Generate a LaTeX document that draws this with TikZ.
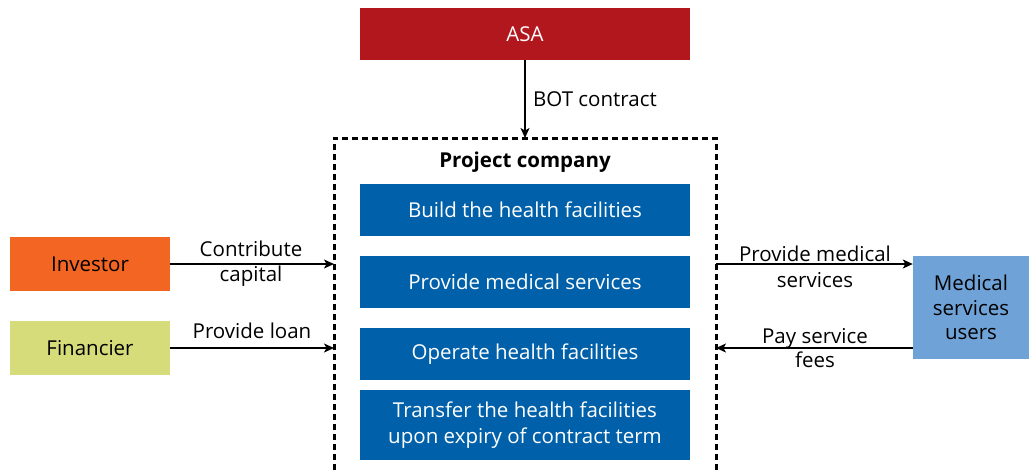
\documentclass[tikz,border=0pt]{standalone}
\usepackage{fontspec}
\setmainfont{Open Sans}
\usetikzlibrary{arrows.meta}
\definecolor{asared}{HTML}{B2171E}
\definecolor{boxblue}{HTML}{0060A9}
\definecolor{invorange}{HTML}{F26522}
\definecolor{finyellow}{HTML}{D6DC7A}
\definecolor{userblue}{HTML}{6FA3D8}
\begin{document}
\begin{tikzpicture}[x=1pt,y=-1pt,
  txt/.style={font=\fontsize{20.5}{24.5}\selectfont, align=center, inner sep=0pt},
  bluebox/.style={txt, fill=boxblue, text=white, minimum width=330pt, minimum height=52pt},
  sidebox/.style={txt, minimum width=160pt, minimum height=54pt},
  conn/.style={line width=1.2pt, -{Stealth[length=10pt,width=9pt,inset=2.5pt]}},
  frame/.style={line width=3pt, dash pattern=on 6pt off 4pt}]
\useasboundingbox (0,0) rectangle (1029,469);
\node[bluebox, fill=asared] (asa) at (525,34) {ASA};
\node[bluebox] (build) at (525,210) {Build the health facilities};
\node[bluebox] (serv) at (525,282) {Provide medical services};
\node[bluebox] (oper) at (525,354) {Operate health facilities};
\node[bluebox, minimum height=70pt, font=\fontsize{20.5}{26}\selectfont] (trans) at (525,425) {Transfer the health facilities\\upon expiry of contract term};
\node[txt, font=\fontsize{20.5}{24}\selectfont\bfseries] (pc) at (525,162) {Project company};
\node[sidebox, fill=invorange] (inv) at (90,264) {Investor};
\node[sidebox, fill=finyellow] (fin) at (90,348) {Financier};
\node[txt, fill=userblue, minimum width=116pt, minimum height=103pt] (users) at (971,307.5) {Medical\\services\\users};
\coordinate (pctl) at (334,138);
\coordinate (pctr) at (716,138);
\coordinate (pcbl) at (334,480);
\coordinate (pcbr) at (716,480);
\begin{scope}
\clip (0,0) rectangle (1029,469);
\draw[frame] (pcbl) -- (pctl) -- (pctr) -- (pcbr);
\end{scope}
\draw[conn] (asa.south) -- (asa.south |- pctl);
\node[txt, anchor=west] (bot) at (533,99) {BOT contract};
\draw[conn] (inv.east) -- (inv.east -| pctl);
\draw[conn] (fin.east) -- (fin.east -| pctl);
\coordinate (usA) at (users.west |- 0,264);
\coordinate (usB) at (users.west |- 0,348);
\draw[conn] (usA -| pctr) -- (usA);
\draw[conn] (usB) -- (usB -| pctr);
\node[txt, font=\fontsize{20.5}{25}\selectfont] (lcap) at (251,264) {Contribute\\capital};
\node[txt] (lloan) at (252,331) {Provide loan};
\node[txt, font=\fontsize{20.5}{25.5}\selectfont] (lmed) at (815,267) {Provide medical\\services};
\node[txt] (lfee) at (815,348) {Pay service\\fees};
\end{tikzpicture}
\end{document}
